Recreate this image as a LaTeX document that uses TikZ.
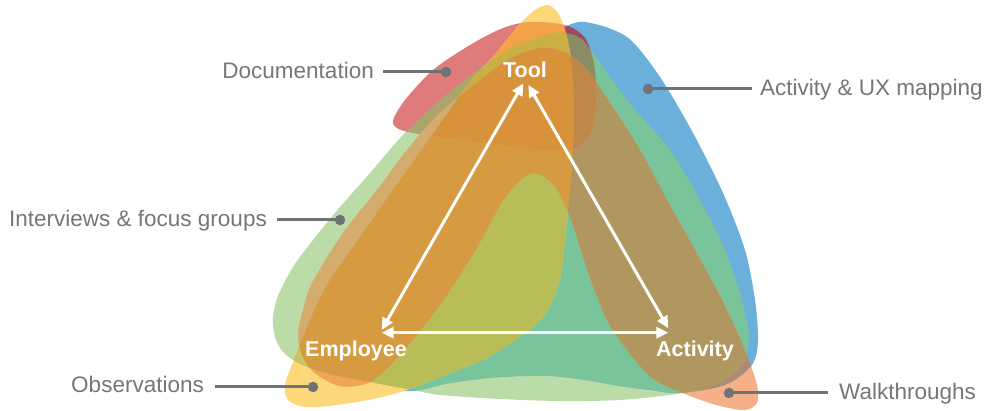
\documentclass[tikz,border=0pt]{standalone}
\usepackage{fontspec}
\setmainfont{Liberation Sans}
\usetikzlibrary{arrows.meta}
\definecolor{cG}{HTML}{BBDCA6}
\definecolor{cB}{HTML}{6BAFDB}
\definecolor{cGB}{HTML}{7AC49B}
\definecolor{cR}{HTML}{E07B7B}
\definecolor{cRB}{HTML}{9E4A5F}
\definecolor{cRG}{HTML}{ADA46B}
\definecolor{cRGB}{HTML}{8B8C63}
\definecolor{cY}{HTML}{FDD87A}
\definecolor{cYR}{HTML}{F2A24A}
\definecolor{cYG}{HTML}{C9C561}
\definecolor{cYGB}{HTML}{B8BD58}
\definecolor{cYGR}{HTML}{C9AF44}
\definecolor{cS}{HTML}{F5B08A}
\definecolor{cSB}{HTML}{A88C77}
\definecolor{cSY}{HTML}{F1A453}
\definecolor{cSG}{HTML}{D4AD6E}
\definecolor{cSGB}{HTML}{B0975F}
\definecolor{cSGRB}{HTML}{BF874A}
\definecolor{cSGY}{HTML}{D69A40}
\definecolor{cSGYR}{HTML}{D7923A}
\definecolor{cTxt}{HTML}{767676}
\definecolor{cLine}{HTML}{707275}
% blob outlines (pixel coordinates, y downwards)
\def\pG{plot[smooth cycle] coordinates {(273,318) (278,296) (293,267) (313,240) (340,207) (370,173) (403,135) (440,100) (475,72) (512,48) (553,33) (578,37) (592,52) (627,100) (670,150) (700,200) (725,250) (742,300) (749,337) (742,365) (715,385) (677,394) (620,400) (560,401) (500,399) (440,395) (413,390) (370,382) (330,374) (300,364) (283,352) (275,337)}}
\def\pB{plot[smooth cycle] coordinates {(560,30) (585,22) (627,37) (660,77) (693,133) (723,193) (745,250) (755,300) (758,340) (752,365) (725,385) (680,393) (650,390) (620,386) (585,380) (550,376) (500,377) (450,383) (413,391) (370,387) (348,360) (352,320) (380,260) (420,195) (470,120) (520,62)}}
\def\pR{plot[smooth cycle] coordinates {(393,121) (405,100) (433,70) (470,45) (503,28) (530,22) (565,25) (585,38) (594,65) (596,100) (591,133) (575,148) (545,150) (480,142) (433,136) (401,130)}}
\def\pY{plot[smooth cycle] coordinates {(548,5) (558,13) (565,30) (571,60) (574,110) (572,165) (567,220) (559,282) (540,320) (492,355) (450,373) (413,388) (378,398) (337,405) (305,407) (288,400) (285,385) (293,362) (303,337) (325,288) (360,237) (393,190) (420,152) (445,117) (470,82) (497,52) (518,26) (535,10)}}
\def\pS{plot[smooth cycle] coordinates {(298,335) (303,310) (312,283) (343,233) (377,190) (407,150) (440,113) (483,78) (503,63) (523,53) (543,48) (563,52) (580,63) (597,83) (640,150) (667,200) (695,250) (722,300) (745,350) (757,385) (757,403) (745,410) (720,406) (690,396) (655,380) (630,354) (607,320) (588,272) (572,222) (557,189) (540,174) (525,176) (503,200) (477,247) (443,300) (410,343) (385,370) (365,384) (340,386) (316,374) (303,357)}}
\tikzset{
  methodlbl/.style={text=cTxt, font=\fontsize{22.5}{27}\selectfont, inner sep=0pt},
  lead/.style={draw=cLine, line width=3pt},
  leaddot/.style={circle, fill=cLine, inner sep=0pt, minimum size=10.5pt},
  nodelbl/.style={text=white, font=\bfseries\fontsize{21.5}{26}\selectfont, inner sep=0pt},
  arr/.style={draw=white, line width=3pt, {Triangle[length=12pt,width=11pt]}-{Triangle[length=12pt,width=11pt]}}
}
\begin{document}
\begin{tikzpicture}[x=1pt,y=-1pt]
\useasboundingbox (0,0) rectangle (988,411);
% Interviews (green)
\fill[cG] \pG;
% Activity & UX mapping (blue)
\fill[cB] \pB;
\begin{scope}\clip \pG; \fill[cGB] \pB; \end{scope}
% Documentation (red)
\fill[cR] \pR;
\begin{scope}\clip \pB; \fill[cRB] \pR; \end{scope}
\begin{scope}\clip \pG; \fill[cRG] \pR; \end{scope}
\begin{scope}\clip \pG; \clip \pB; \fill[cRGB] \pR; \end{scope}
% Observations (yellow)
\fill[cY] \pY;
\begin{scope}\clip \pR; \fill[cYR] \pY; \end{scope}
\begin{scope}\clip \pG; \fill[cYG] \pY; \end{scope}
\begin{scope}\clip \pG; \clip \pB; \fill[cYGB] \pY; \end{scope}
\begin{scope}\clip \pG; \clip \pR; \fill[cYGR] \pY; \end{scope}
% Walkthroughs (salmon)
\fill[cS] \pS;
\begin{scope}\clip \pB; \fill[cSB] \pS; \end{scope}
\begin{scope}\clip \pY; \fill[cSY] \pS; \end{scope}
\begin{scope}\clip \pG; \fill[cSG] \pS; \end{scope}
\begin{scope}\clip \pG; \clip \pB; \fill[cSGB] \pS; \end{scope}
\begin{scope}\clip \pG; \clip \pB; \clip \pR; \fill[cSGRB] \pS; \end{scope}
\begin{scope}\clip \pG; \clip \pY; \fill[cSGY] \pS; \end{scope}
\begin{scope}\clip \pG; \clip \pY; \clip \pR; \fill[cSGYR] \pS; \end{scope}

% node labels
\node[nodelbl, anchor=base] (tool) at (525,78) {Tool};
\node[nodelbl, anchor=base] (employee) at (356,357) {Employee};
\node[nodelbl, anchor=base] (activity) at (695,357) {Activity};
% arrow ends
\coordinate (toolL) at (523.3,83.3);
\coordinate (toolR) at (528.3,85);
\coordinate (empT) at (381.7,330);
\coordinate (empR) at (381.7,332.7);
\coordinate (actT) at (668.3,328.3);
\coordinate (actL) at (668.3,332.7);
\draw[arr] (empT) -- (toolL);
\draw[arr] (toolR) -- (actT);
\draw[arr] (empR) -- (actL);

% method labels with leaders
\node[leaddot] (dDoc) at (446,72) {};
\node[methodlbl, anchor=base east] (tDoc) at (374,79) {Documentation};
\draw[lead, shorten <=9pt] (tDoc.east |- dDoc.center) -- (dDoc.center);

\node[leaddot] (dAct) at (648,89) {};
\node[methodlbl, anchor=base west] (tAct) at (760,96) {Activity \& UX mapping};
\draw[lead, shorten >=8pt] (dAct.center) -- (tAct.west |- dAct.center);

\node[leaddot] (dInt) at (340,220) {};
\node[methodlbl, anchor=base east] (tInt) at (267,226.5) {Interviews \& focus groups};
\draw[lead, shorten <=10pt] (tInt.east |- dInt.center) -- (dInt.center);

\node[leaddot] (dObs) at (313,387) {};
\node[methodlbl, anchor=base east] (tObs) at (204,392.5) {Observations};
\draw[lead, shorten <=11pt] (tObs.east |- dObs.center) -- (dObs.center);

\node[leaddot] (dWalk) at (729,393) {};
\node[methodlbl, anchor=base west] (tWalk) at (839,400) {Walkthroughs};
\draw[lead, shorten >=11pt] (dWalk.center) -- (tWalk.west |- dWalk.center);
\end{tikzpicture}
\end{document}
